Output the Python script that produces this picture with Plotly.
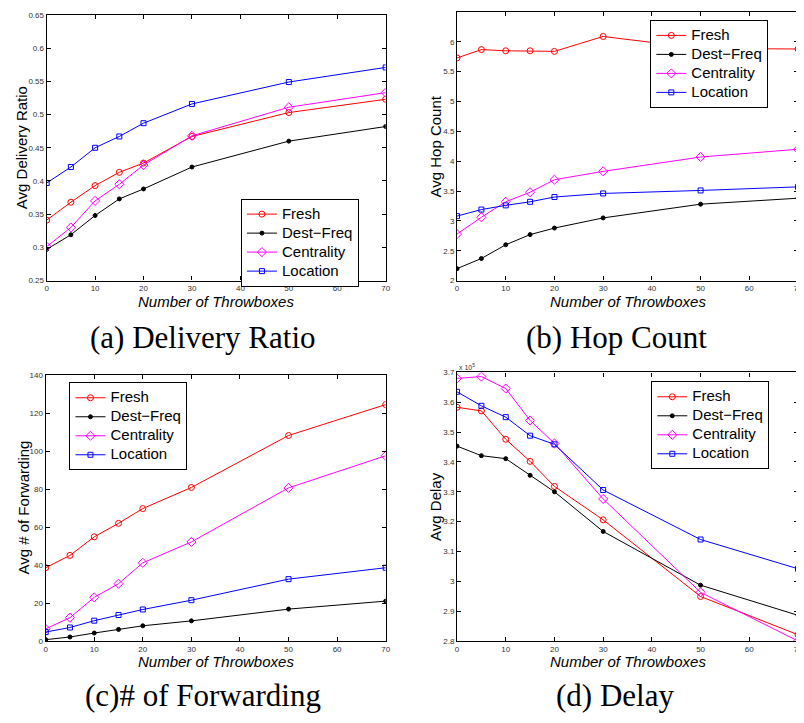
import plotly.graph_objects as go

# page body has an 8px margin; the figure is sized to fit the window after it
OFF = 8
W, H = 804 - OFF, 723 - OFF

throwboxes = [0, 5, 10, 15, 20, 30, 50, 70]
series_names = ["Fresh", "Dest\u2212Freq", "Centrality", "Location"]

# (a) Avg Delivery Ratio
ratio_fresh = [0.341, 0.368, 0.393, 0.413, 0.427, 0.467, 0.503, 0.523]
ratio_dest = [0.297, 0.319, 0.348, 0.373, 0.388, 0.421, 0.460, 0.482]
ratio_cent = [0.301, 0.330, 0.370, 0.395, 0.424, 0.468, 0.511, 0.533]
ratio_loc = [0.397, 0.421, 0.450, 0.467, 0.487, 0.516, 0.549, 0.571]

# (b) Avg Hop Count
hop_fresh = [5.73, 5.87, 5.85, 5.85, 5.84, 6.09, 5.89, 5.88]
hop_dest = [2.20, 2.37, 2.60, 2.77, 2.88, 3.05, 3.28, 3.38]
hop_cent = [2.78, 3.06, 3.32, 3.48, 3.69, 3.83, 4.07, 4.20]
hop_loc = [3.08, 3.19, 3.26, 3.32, 3.40, 3.46, 3.51, 3.57]

# (c) Avg # of Forwarding
fwd_fresh = [38.6, 45.1, 54.9, 62.0, 69.8, 80.9, 108.3, 124.6]
fwd_dest = [0.7, 2.1, 4.2, 6.1, 8.0, 10.6, 16.8, 21.0]
fwd_cent = [6.4, 12.3, 23.0, 30.2, 41.2, 52.2, 80.7, 97.6]
fwd_loc = [4.7, 7.1, 10.7, 13.7, 16.6, 21.5, 32.6, 38.6]

# (d) Avg Delay, in units of 1e5
delay_fresh = [3.583, 3.571, 3.476, 3.402, 3.318, 3.206, 2.949, 2.821]
delay_dest = [3.453, 3.421, 3.411, 3.355, 3.300, 3.167, 2.987, 2.886]
delay_cent = [3.680, 3.686, 3.646, 3.539, 3.462, 3.276, 2.963, 2.800]
delay_loc = [3.635, 3.588, 3.550, 3.488, 3.459, 3.306, 3.140, 3.042]

x_ticks = [0, 10, 20, 30, 40, 50, 60, 70]
ratio_ticks = [0.25, 0.3, 0.35, 0.4, 0.45, 0.5, 0.55, 0.6, 0.65]
hop_ticks = [2, 2.5, 3, 3.5, 4, 4.5, 5, 5.5, 6, 6.5]
fwd_ticks = [0, 20, 40, 60, 80, 100, 120, 140]
delay_ticks = [2.8, 2.9, 3, 3.1, 3.2, 3.3, 3.4, 3.5, 3.6, 3.7]

captions = ["(a) Delivery Ratio", "(b) Hop Count", "(c)# of Forwarding", "(d) Delay"]
y_titles = ["Avg Delivery Ratio", "Avg Hop Count", "Avg # of Forwarding", "Avg Delay"]
x_title = "Number of Throwboxes"

colors = ["#ff0000", "#000000", "#ff00ff", "#0000ff"]
symbols = ["circle-open", "circle", "diamond-open", "square-open"]
msizes = [6, 4, 7, 5]

panels = [
    (ratio_fresh, ratio_dest, ratio_cent, ratio_loc),
    (hop_fresh, hop_dest, hop_cent, hop_loc),
    (fwd_fresh, fwd_dest, fwd_cent, fwd_loc),
    (delay_fresh, delay_dest, delay_cent, delay_loc),
]
yticks_all = [ratio_ticks, hop_ticks, fwd_ticks, delay_ticks]
yranges = [[0.25, 0.65], [2, 6.5], [0, 140], [2.8, 3.7]]

# pixel boxes in window coordinates: left, right, top, bottom
boxes = [
    (45, 387, 11, 280),
    (459, 803, 8, 280),
    (44, 387, 376, 645),
    (459, 803, 373, 645),
]
legend_pos = [(241, 197), (654, 16), (68, 383), (655, 382)]
cap_pos = [(203, 338), (620, 338), (203, 700), (618, 700)]
ytitle_pos = [(19, 145), (437, 144), (22, 510), (437, 509)]


def px(v):
    return (v - OFF) / W


def py(v):
    return 1 - (v - OFF) / H


FONT = "Liberation Sans, Arial, sans-serif"

fig = go.Figure()
layout = dict(
    width=W, height=H, margin=dict(l=0, r=0, t=0, b=0),
    paper_bgcolor="white", plot_bgcolor="white",
    font=dict(family=FONT, color="#000"),
    annotations=[],
)

for i, vals in enumerate(panels):
    sfx = "" if i == 0 else str(i + 1)
    leg = "legend" if i == 0 else "legend" + str(i + 1)
    for j, v in enumerate(vals):
        fig.add_trace(go.Scatter(
            x=throwboxes, y=v, mode="lines+markers",
            name='<span style="font-size:15px">' + series_names[j] + "</span>",
            line=dict(color=colors[j], width=1),
            marker=dict(symbol=symbols[j], size=msizes[j], color=colors[j],
                        line=dict(color=colors[j], width=1)),
            xaxis="x" + sfx, yaxis="y" + sfx, legend=leg,
        ))
    l, r, t, b = boxes[i]
    axcommon = dict(
        showline=True, linecolor="black", linewidth=1.2, mirror="allticks",
        ticks="inside", ticklen=4, tickwidth=1, tickcolor="black",
        showgrid=False, zeroline=False,
        tickfont=dict(size=8, color="#333", family=FONT),
    )
    layout["xaxis" + sfx] = dict(
        axcommon, domain=[px(l), px(r)], range=[0, 70], tickvals=x_ticks,
        anchor="y" + sfx,
    )
    layout["yaxis" + sfx] = dict(
        axcommon, domain=[py(b), py(t)], range=yranges[i],
        tickvals=yticks_all[i], anchor="x" + sfx,
    )
    lx, ly = legend_pos[i]
    layout[leg] = dict(
        x=px(lx), y=py(ly), xanchor="left", yanchor="top",
        xref="paper", yref="paper",
        bordercolor="black", borderwidth=1, bgcolor="white",
        font=dict(size=12, family=FONT),
        itemwidth=30, tracegroupgap=0,
    )
    cx, cy = cap_pos[i]
    layout["annotations"].append(dict(
        text=captions[i], x=px(cx), y=py(cy), xref="paper", yref="paper",
        showarrow=False, xanchor="center", yanchor="middle",
        font=dict(size=31, family="Liberation Serif, Times New Roman, serif"),
    ))
    layout["annotations"].append(dict(
        text="<i>" + x_title + "</i>", x=px((l + r) / 2), y=py(b + 21),
        xref="paper", yref="paper", showarrow=False,
        xanchor="center", yanchor="middle", font=dict(size=15),
    ))
    tx, ty = ytitle_pos[i]
    layout["annotations"].append(dict(
        text=y_titles[i], x=px(tx), y=py(ty), xref="paper", yref="paper",
        showarrow=False, xanchor="center", yanchor="middle", textangle=-90,
        font=dict(size=15),
    ))

layout["annotations"].append(dict(
    text="x 10<sup>5</sup>", x=px(459), y=py(368), xref="paper", yref="paper",
    showarrow=False, xanchor="left", yanchor="middle",
    font=dict(size=7, color="#333"),
))

fig.update_layout(**layout)
fig.write_html("out.html")
